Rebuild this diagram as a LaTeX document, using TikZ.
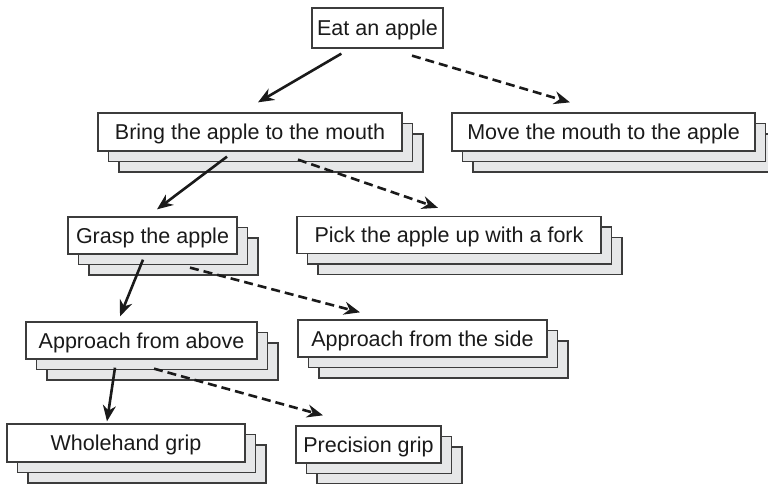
\documentclass[tikz,border=0pt]{standalone}
\usepackage{fontspec}
\setmainfont{Liberation Sans}
\usetikzlibrary{shadows,calc,arrows.meta}

\definecolor{stackgray}{HTML}{E6E7E8}
\definecolor{edgegray}{HTML}{3C3C3C}
\definecolor{inkblack}{HTML}{1A1A1A}

\tikzset{
  task/.style={draw=edgegray, line width=1.3pt, fill=white, text=inkblack,
    minimum height=38pt, inner sep=0pt, text height=17.5pt, text depth=2.5pt,
    font=\fontsize{21.5pt}{25pt}\selectfont},
  stacked/.style={task,
    copy shadow={shadow xshift=21pt, shadow yshift=-21pt, fill=stackgray, draw=edgegray},
    copy shadow={shadow xshift=10.5pt, shadow yshift=-10.5pt, fill=stackgray, draw=edgegray}},
  solidarrow/.style={draw=inkblack, line width=2.6pt, -{Stealth[length=16pt,width=13pt]}},
  dasharrow/.style={solidarrow, dash pattern=on 9pt off 5pt}
}

\begin{document}
\begin{tikzpicture}[x=1pt,y=-1pt]
\useasboundingbox (0,0) rectangle (768,483);
\node[task, minimum width=131pt, minimum height=40pt] (eat) at (377.5,28) {Eat an apple};
\node[stacked, minimum width=304pt] (bring) at (250,132) {Bring the apple to the mouth};
\node[stacked, minimum width=303pt] (move) at (603.5,132) {Move the mouth to the apple};
\node[stacked, minimum width=169pt, minimum height=37pt] (grasp) at (152.5,235.5) {Grasp the apple};
\node[stacked, minimum width=304pt, minimum height=37pt] (fork) at (449,235) {Pick the apple up with a fork};
\node[stacked, minimum width=231pt, minimum height=37pt] (above) at (141.5,340.5) {Approach from above};
\node[stacked, minimum width=249pt, minimum height=37pt] (side) at (422.5,338.5) {Approach from the side};
\node[stacked, minimum width=238pt] (whole) at (126,443) {Wholehand grip};
\node[stacked, minimum width=145pt, minimum height=37pt] (precision) at (368.5,444.5) {Precision grip};
% first choice
\draw[solidarrow] ($(eat.south west)+(30,5)$) -- ($(bring.north)+(8,-10)$);
\draw[dasharrow] ($(eat.south)+(34.5,7)$) -- ($(move.north)+(-33.5,-10)$);
% bring the apple
\draw[solidarrow] ($(bring.south)+(-23,5)$) -- ($(grasp.north)+(4.5,-7)$);
\draw[dasharrow] ($(bring.south)+(48,8)$) -- ($(fork.north)+(-11,-8)$);
% grasp
\draw[solidarrow] ($(grasp.south)+(-9.5,5)$) -- ($(above.north)+(-21.5,-5)$);
\draw[dasharrow] ($(grasp.south)+(37.5,13)$) -- ($(side.north)+(-62.5,-7)$);
% approach
\draw[solidarrow] ($(above.south)+(-26.5,8)$) -- ($(whole.north)+(-19,-2)$);
\draw[dasharrow] ($(above.south)+(12.5,9)$) -- ($(precision.north)+(-45.5,-10)$);
\end{tikzpicture}
\end{document}
